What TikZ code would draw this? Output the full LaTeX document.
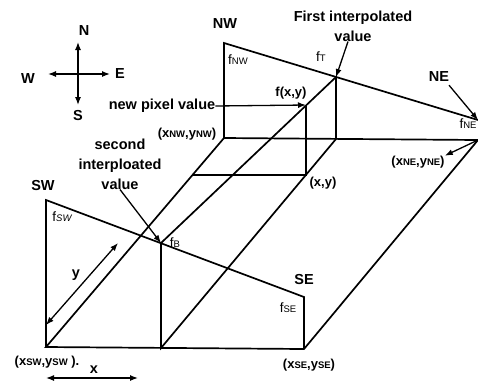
\documentclass[tikz,border=0pt]{standalone}
\usepackage{fontspec}
\setmainfont{Liberation Sans}
\usetikzlibrary{arrows.meta}
\newcommand{\low}[1]{{\fontsize{9.5}{10}\selectfont #1}}
\begin{document}
\begin{tikzpicture}[x=1pt,y=-1pt,>={Latex[length=8pt,width=6pt]},every node/.style={font=\fontsize{14.5}{20}\selectfont\bfseries,inner sep=0pt},e/.style={line width=1.7pt},a/.style={line width=1.3pt,->},t/.style={font=\fontsize{13.5}{15}\selectfont},c/.style={font=\fontsize{13}{15}\selectfont\bfseries}]
\useasboundingbox (0,0) rectangle (478,381);
% corners
\coordinate (nwtop) at (224,43);\coordinate (nwbase) at (224,138);
\coordinate (netop) at (478,120);\coordinate (nebase) at (478,140);
\coordinate (swtop) at (46,200);\coordinate (swbase) at (46,347);
\coordinate (setop) at (304,297);\coordinate (sebase) at (304,349);
\coordinate (ttop) at (336,77);\coordinate (tbase) at (336,139);
\coordinate (btop) at (161,243);\coordinate (bbase) at (161,348);
\coordinate (pxtop) at (306,105);\coordinate (pxbase) at (306,175);
\coordinate (leftedge) at (193,175);
% compass
\coordinate (c) at (78,74);
\node (n) at (84,31) {N};\node (s) at (78,116) {S};
\node (w) at (28,79) {W};\node (ee) at (120,74) {E};
\draw[a] (c)--(78,42);\draw[a] (c)--(78,105);
\draw[a] (c)--(48,74);\draw[a] (c)--(110,74);
% surface
\draw[e] (nwbase)--(nwtop)--(netop);
\draw[e] (nwbase)--(nebase)--(sebase)--(swbase)--cycle;
\draw[e] (swbase)--(swtop)--(setop)--(sebase);
\draw[e] (tbase)--(ttop)--(btop)--(bbase)--cycle;
\draw[e] (leftedge)--(pxbase)--(pxtop);
% labels
\node (nw) at (225,24) {NW};\node (sw) at (43,186) {SW};
\node (se) at (304,279) {SE};\node (ne) at (439,77) {NE};
\node[t] (fnw) at (238,60) {f\low{NW}};\node[t] (fsw) at (62,217) {f\low{\itshape SW}};
\node[t] (fse) at (288,308) {f\low{SE}};\node[t] (fne) at (468,124) {f\low{NE}};
\node[t] (ft) at (321,57) {f\low{T}};\node[t] (fb) at (175,243) {f\low{B}};
\node[c] (fxy) at (291,93) {f(x,y)};\node[c] (xy) at (323,183) {(x,y)};
\node[c] (xnw) at (187,134) {(x\low{NW},y\low{NW})};
\node[c] (xne) at (418,162) {(x\low{NE},y\low{NE})};
\node[c] (xsw) at (47,362) {(x\low{SW},y\low{SW} ).};
\node[c] (xse) at (309,365) {(x\low{SE},y\low{SE})};
\node (pixel) at (162,106) {new pixel value};
\node[align=center] (first) at (353,26) {First interpolated\\value};
\node[align=center] (second) at (120,164) {second\\interploated\\value};
\node (y) at (76,275) {y};\node (x) at (94,370) {x};
% arrows
\draw[a] (pixel.east)--(pxtop);
\draw[a] (first.south)++(-5,0)--(ttop);
\draw[a] (second.south)--(btop);
\draw[a] (ne.south)++(10,3)--(netop);
\draw[a] (nebase)--(xne.north east);
\draw[a,<->] (46,325)--(118,243);
\draw[a,<->] (46,378)--(138,378);
\end{tikzpicture}
\end{document}
